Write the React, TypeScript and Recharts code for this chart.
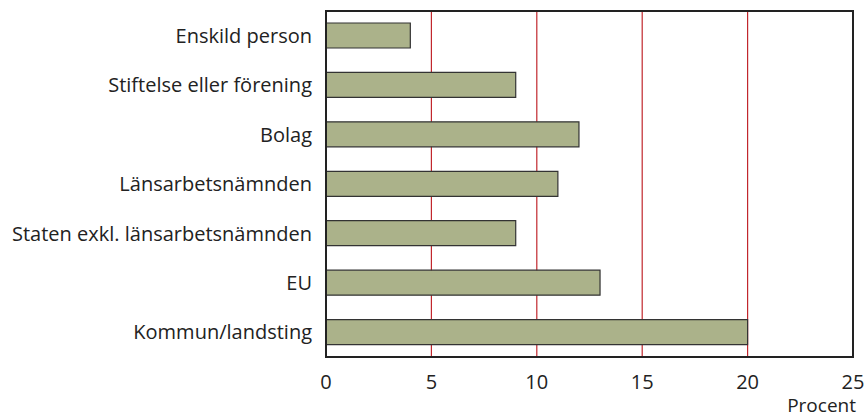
import {
  Bar,
  BarChart,
  CartesianGrid,
  ReferenceArea,
  XAxis,
  YAxis,
} from "recharts";

const categories = [
  "Enskild person",
  "Stiftelse eller förening",
  "Bolag",
  "Länsarbetsnämnden",
  "Staten exkl. länsarbetsnämnden",
  "EU",
  "Kommun/landsting",
];
const procent = [4, 9, 12, 11, 9, 13, 20];
const xTicks = [0, 5, 10, 15, 20, 25];

const data = categories.map((name, i) => ({ name, value: procent[i] }));

const font = "'Open Sans', 'Noto Sans', sans-serif";

export default function App() {
  return (
    <div style={{ position: "absolute", left: 0, top: 0, fontFamily: font }}>
      <BarChart
        width={866}
        height={418}
        data={data}
        layout="vertical"
        barSize={25}
        margin={{ top: 11, right: 13, bottom: 0, left: 0 }}
      >
        <CartesianGrid
          horizontal={false}
          stroke="#c1272d"
          strokeWidth={1.2}
        />
        <XAxis
          type="number"
          domain={[0, 25]}
          ticks={xTicks}
          tickLine={false}
          axisLine={{ stroke: "#222", strokeWidth: 2 }}
          tick={{ fill: "#222", fontSize: 20 }}
          tickMargin={12}
          height={61}
        />
        <YAxis
          type="category"
          dataKey="name"
          width={326}
          tickLine={false}
          axisLine={{ stroke: "#222", strokeWidth: 2 }}
          tick={{ fill: "#222", fontSize: 20 }}
          tickMargin={8}
        />
        <ReferenceArea
          x1={0}
          x2={25}
          fill="none"
          stroke="#222"
          strokeWidth={2}
          ifOverflow="visible"
        />
        <Bar
          dataKey="value"
          fill="#abb28a"
          stroke="#333"
          strokeWidth={1.2}
          isAnimationActive={false}
        />
        <text x={856} y={412} textAnchor="end" fill="#222" fontSize={19}>
          Procent
        </text>
      </BarChart>
    </div>
  );
}
